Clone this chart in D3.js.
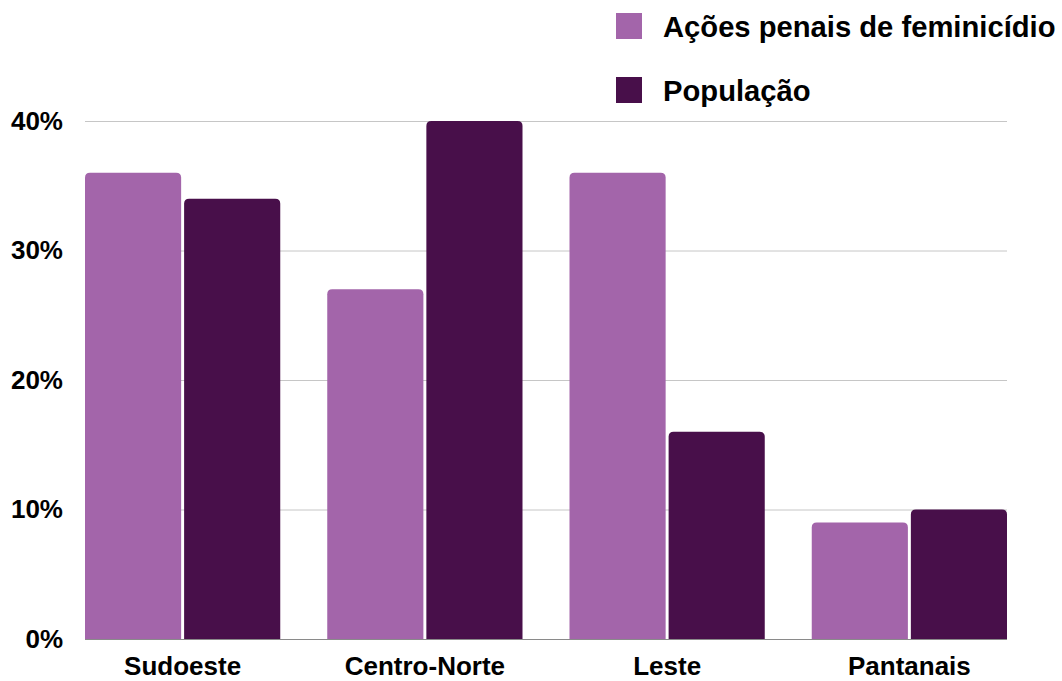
<!DOCTYPE html>
<html><head><meta charset="utf-8">
<script src="https://cdn.jsdelivr.net/npm/d3@7"></script>
<style>body{margin:0;background:#fff;}svg{display:block;font-family:"Liberation Sans",Arial,sans-serif;font-weight:bold;}</style>
</head><body><svg id="c" width="1062" height="681"></svg>
<script>
const categories = ["Sudoeste", "Centro-Norte", "Leste", "Pantanais"];
const seriesNames = ["Ações penais de feminicídio", "População"];
const acoes = [0.36, 0.27, 0.36, 0.09];
const populacao = [0.34, 0.40, 0.16, 0.10];
const yTicks = [0, 0.1, 0.2, 0.3, 0.4];
const colors = ["#a365aa", "#480f4a"];

(function () {
const svg = d3.select("#c");
const pLeft = 85, pRight = 1007, pTop = 121, pBottom = 639;

const x0 = d3.scaleBand().domain(categories).range([pLeft, pRight]).paddingInner(0.194).paddingOuter(0);
const x1 = d3.scaleBand().domain(seriesNames).range([0, x0.bandwidth()]).paddingInner(0.03);
const y = d3.scaleLinear().domain([0, 0.4]).range([pBottom, pTop]);

// gridlines
svg.append("g").selectAll("line").data(yTicks.filter(d => d > 0)).join("line")
  .attr("x1", pLeft).attr("x2", pRight)
  .attr("y1", d => y(d) + 0.5).attr("y2", d => y(d) + 0.5)
  .attr("stroke", "#c6c6c6").attr("stroke-width", 1);

// y axis labels
const yAxis = d3.axisLeft(y).tickValues(yTicks).tickFormat(d3.format(".0%")).tickSize(0).tickPadding(0);
const ya = svg.append("g").attr("transform", `translate(63,0)`).call(yAxis);
ya.select(".domain").remove();
ya.selectAll("text").attr("font-size", 26).attr("font-weight", "bold").attr("fill", "#000")
  .attr("font-family", "Liberation Sans, Arial, sans-serif");

// bars
function topRounded(x, yTop, w, h, r) {
  r = Math.min(r, h, w / 2);
  return `M${x},${yTop + h}V${yTop + r}Q${x},${yTop} ${x + r},${yTop}H${x + w - r}Q${x + w},${yTop} ${x + w},${yTop + r}V${yTop + h}Z`;
}
const data = categories.map((c, i) => ({ cat: c, vals: [acoes[i], populacao[i]] }));
const g = svg.append("g");
data.forEach(d => {
  d.vals.forEach((v, j) => {
    const bx = x0(d.cat) + x1(seriesNames[j]);
    g.append("path")
      .attr("d", topRounded(bx, y(v), x1.bandwidth(), y(0) - y(v), 5))
      .attr("fill", colors[j]);
  });
});

// baseline
svg.append("line").attr("x1", pLeft).attr("x2", pRight).attr("y1", pBottom + 0.5).attr("y2", pBottom + 0.5)
  .attr("stroke", "#8a8a8a").attr("stroke-width", 1);

// x axis labels
const xAxis = d3.axisBottom(x0).tickSize(0).tickPadding(0);
const xa = svg.append("g").attr("transform", `translate(0,${pBottom})`).call(xAxis);
xa.select(".domain").remove();
xa.selectAll("text").attr("font-size", 26).attr("font-weight", "bold").attr("fill", "#000")
  .attr("font-family", "Liberation Sans, Arial, sans-serif")
  .attr("dy", null).attr("y", 36);

// legend
const legend = svg.append("g");
seriesNames.forEach((s, j) => {
  const ly = 13 + j * 64;
  legend.append("rect").attr("x", 616).attr("y", ly).attr("width", 26).attr("height", 26).attr("fill", colors[j]);
  legend.append("text").attr("x", 663).attr("y", ly + 24).attr("font-size", 29.2).attr("fill", "#000").text(s);
});
})();
</script></body></html>
